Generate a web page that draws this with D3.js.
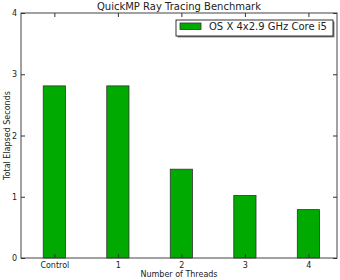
<!DOCTYPE html>
<html>
<head>
<meta charset="utf-8">
<script src="https://cdn.jsdelivr.net/npm/d3@7"></script>
<style>
  body { margin: 0; background: #fff; }
  text { font-family: "DejaVu Sans", sans-serif; fill: #222; }
</style>
</head>
<body>
<svg width="340" height="280"></svg>
<script>
// chart data
const categories = ['Control', '1', '2', '3', '4']
const seconds = [2.81, 2.81, 1.45, 1.02, 0.79]
const yTicks = [0, 1, 2, 3, 4]
const seriesName = 'OS X 4x2.9 GHz Core i5'

let svg = d3.select('svg')
let plotL = 21, plotR = 337, plotT = 13, plotB = 258
let barW = 0.35

let x = d3.scaleLinear().domain([-0.35, 4.625]).range([plotL, plotR])
let y = d3.scaleLinear().domain([0, 4]).range([plotB, plotT])

// bars
svg.selectAll('.bar')
  .data(seconds)
  .enter()
  .append('rect')
    .attr('class', 'bar')
    .attr('x', function(d, i) { return x(i) })
    .attr('y', function(d) { return y(d) })
    .attr('width', x(barW) - x(0))
    .attr('height', function(d) { return plotB - y(d) })
    .attr('fill', '#00aa00')
    .attr('stroke', '#333')
    .attr('stroke-width', 0.8)

// frame
svg.append('rect')
  .attr('x', plotL).attr('y', plotT)
  .attr('width', plotR - plotL).attr('height', plotB - plotT)
  .attr('fill', 'none').attr('stroke', '#444').attr('stroke-width', 1)

// inward ticks on all sides
let tickPos = categories.map(function(c, i) { return i + barW / 2 })
let xAxis = d3.axisBottom(x).tickValues(tickPos).tickSize(-4)
  .tickFormat(function(d, i) { return categories[i] })
let gx = svg.append('g').attr('transform', 'translate(0,' + plotB + ')').call(xAxis)
gx.select('.domain').remove()
gx.selectAll('text').attr('dy', '0').attr('y', 10).style('font-size', '8px')

let gxTop = svg.append('g').attr('transform', 'translate(0,' + plotT + ')')
  .call(d3.axisTop(x).tickValues(tickPos).tickSize(-4).tickFormat(''))
gxTop.select('.domain').remove()

let gy = svg.append('g').attr('transform', 'translate(' + plotL + ',0)')
  .call(d3.axisLeft(y).tickValues(yTicks).tickSize(-4).tickFormat(d3.format('d')))
gy.select('.domain').remove()
gy.selectAll('text').attr('x', -4).style('font-size', '8px')

let gyRight = svg.append('g').attr('transform', 'translate(' + plotR + ',0)')
  .call(d3.axisRight(y).tickValues(yTicks).tickSize(-4).tickFormat(''))
gyRight.select('.domain').remove()

svg.selectAll('.tick line').attr('stroke', '#333')

// title and labels
svg.append('text')
  .attr('x', (plotL + plotR) / 2).attr('y', 10)
  .attr('text-anchor', 'middle').style('font-size', '10px')
  .text('QuickMP Ray Tracing Benchmark')

svg.append('text')
  .attr('x', (plotL + plotR) / 2).attr('y', 277)
  .attr('text-anchor', 'middle').style('font-size', '8px')
  .text('Number of Threads')

svg.append('text')
  .attr('transform', 'translate(10,' + (plotT + plotB) / 2 + ') rotate(-90)')
  .attr('text-anchor', 'middle').style('font-size', '8px')
  .text('Total Elapsed Seconds')

// legend
let lg = svg.append('g').attr('transform', 'translate(176,20)')
lg.append('rect').attr('x', 1.5).attr('y', 1.5).attr('width', 157).attr('height', 16)
  .attr('fill', '#888')
lg.append('rect').attr('width', 157).attr('height', 16)
  .attr('fill', '#fff').attr('stroke', '#000').attr('stroke-width', 0.8)
lg.append('rect').attr('x', 4).attr('y', 3).attr('width', 21).attr('height', 6.5)
  .attr('fill', '#00aa00').attr('stroke', '#333').attr('stroke-width', 0.8)
lg.append('text').attr('x', 33).attr('y', 10).style('font-size', '10px')
  .text(seriesName)
</script>
</body>
</html>
